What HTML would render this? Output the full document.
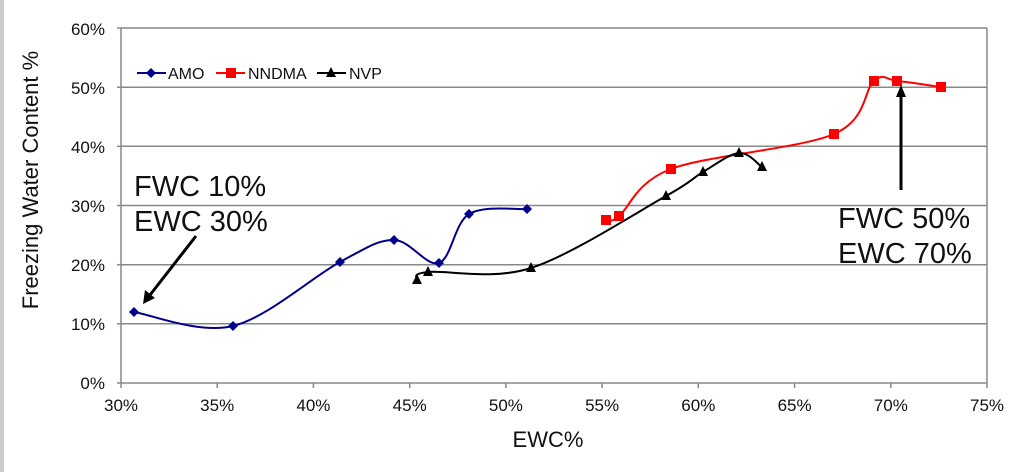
<!DOCTYPE html>
<html><head><meta charset="utf-8"><style>
html,body{margin:0;padding:0;background:#fff;}
svg{display:block;font-family:"Liberation Sans",Arial,sans-serif;}
</style></head><body>
<svg id="s" width="1032" height="472" viewBox="0 0 1032 472" xmlns="http://www.w3.org/2000/svg">
<rect x="0" y="0" width="4" height="472" fill="#ccc"/>
<g stroke="#888" stroke-width="1.5">
<line x1="121" y1="28" x2="987" y2="28"/>
<line x1="121" y1="87.2" x2="987" y2="87.2"/>
<line x1="121" y1="146.3" x2="987" y2="146.3"/>
<line x1="121" y1="205.5" x2="987" y2="205.5"/>
<line x1="121" y1="264.7" x2="987" y2="264.7"/>
<line x1="121" y1="323.8" x2="987" y2="323.8"/>
<line x1="121" y1="383" x2="987" y2="383"/>
<line x1="121" y1="28" x2="121" y2="383"/>
<line x1="987" y1="28" x2="987" y2="383"/>
<line x1="117" y1="28" x2="121" y2="28"/><line x1="117" y1="87.2" x2="121" y2="87.2"/><line x1="117" y1="146.3" x2="121" y2="146.3"/><line x1="117" y1="205.5" x2="121" y2="205.5"/><line x1="117" y1="264.7" x2="121" y2="264.7"/><line x1="117" y1="323.8" x2="121" y2="323.8"/><line x1="117" y1="383" x2="121" y2="383"/>
<line x1="121" y1="383" x2="121" y2="388"/><line x1="217.2" y1="383" x2="217.2" y2="388"/><line x1="313.4" y1="383" x2="313.4" y2="388"/><line x1="409.7" y1="383" x2="409.7" y2="388"/><line x1="505.9" y1="383" x2="505.9" y2="388"/><line x1="602.1" y1="383" x2="602.1" y2="388"/><line x1="698.3" y1="383" x2="698.3" y2="388"/><line x1="794.6" y1="383" x2="794.6" y2="388"/><line x1="890.8" y1="383" x2="890.8" y2="388"/><line x1="987" y1="383" x2="987" y2="388"/>
</g>
<g font-size="17" fill="#111" text-anchor="end">
<text x="105" y="35">60%</text><text x="105" y="94">50%</text><text x="105" y="153">40%</text><text x="105" y="212">30%</text><text x="105" y="271">20%</text><text x="105" y="330">10%</text><text x="105" y="389">0%</text>
</g>
<g font-size="17" fill="#111" text-anchor="middle">
<text x="121" y="411">30%</text><text x="217.2" y="411">35%</text><text x="313.4" y="411">40%</text><text x="409.7" y="411">45%</text><text x="505.9" y="411">50%</text><text x="602.1" y="411">55%</text><text x="698.3" y="411">60%</text><text x="794.6" y="411">65%</text><text x="890.8" y="411">70%</text><text x="987" y="411">75%</text>
</g>
<text x="548" y="447" font-size="22" fill="#111" text-anchor="middle">EWC%</text>
<text transform="translate(38,180) rotate(-90)" font-size="22" fill="#111" text-anchor="middle">Freezing Water Content %</text>
<line x1="137" y1="73" x2="166" y2="73" stroke="#00008b" stroke-width="2"/>
<path d="M151,68 L156,73 L151,78 L146,73Z" fill="#00008b"/>
<text x="168" y="79" font-size="16" fill="#111">AMO</text>
<line x1="216" y1="73" x2="245" y2="73" stroke="#f00" stroke-width="2"/>
<rect x="226" y="68" width="10" height="10" fill="#f00"/>
<text x="248" y="79" font-size="16" fill="#111">NNDMA</text>
<line x1="317" y1="73" x2="346" y2="73" stroke="#000" stroke-width="2"/>
<path d="M331,67 L336,77 L326,77Z" fill="#000"/>
<text x="349" y="79" font-size="16" fill="#111">NVP</text>
<g id="series"></g>
<text x="134" y="196" font-size="29" fill="#111">FWC 10%</text>
<text x="134" y="231" font-size="29" fill="#111">EWC 30%</text>
<line x1="196" y1="236" x2="150" y2="295" stroke="#000" stroke-width="3"/>
<path d="M143,304 L145,290 L155,298Z" fill="#000"/>
<text x="838" y="228" font-size="29" fill="#111">FWC 50%</text>
<text x="838" y="263" font-size="29" fill="#111">EWC 70%</text>
<line x1="901" y1="190" x2="901" y2="95" stroke="#000" stroke-width="3"/>
<path d="M901,85 L896,97 L906,97Z" fill="#000"/>
</svg>
<script>
function cr(p){var d="M"+p[0][0]+","+p[0][1];for(var i=0;i<p.length-1;i++){var a=p[i-1]||p[i],b=p[i],c=p[i+1],e=p[i+2]||c;var t=0.5/3;d+=" C"+(b[0]+(c[0]-a[0])*t)+","+(b[1]+(c[1]-a[1])*t)+" "+(c[0]-(e[0]-b[0])*t)+","+(c[1]-(e[1]-b[1])*t)+" "+c[0]+","+c[1];}return d;}
var g=document.getElementById("series"),h="";
var amo=[[134,312],[233,326],[340,262],[394,240],[439,263],[469,214],[527,209]];
var nn=[[606,220],[619,216],[671,169],[834,134],[874,81],[897,81],[941,87]];
var nv=[[417,280],[428,272],[531,268],[666,196],[703,172],[739,153],[762,167]];
h+='<path d="'+cr(amo)+'" fill="none" stroke="#00008b" stroke-width="2"/>';
h+='<path d="'+cr(nn)+'" fill="none" stroke="#f00" stroke-width="2"/>';
h+='<path d="'+cr(nv)+'" fill="none" stroke="#000" stroke-width="2"/>';
amo.forEach(function(p){h+='<path d="M'+p[0]+','+(p[1]-5)+' L'+(p[0]+5)+','+p[1]+' L'+p[0]+','+(p[1]+5)+' L'+(p[0]-5)+','+p[1]+'Z" fill="#00008b"/>';});
nn.forEach(function(p){h+='<rect x="'+(p[0]-5)+'" y="'+(p[1]-5)+'" width="10" height="10" fill="#f00"/>';});
nv.forEach(function(p){h+='<path d="M'+p[0]+','+(p[1]-6)+' L'+(p[0]+5)+','+(p[1]+4)+' L'+(p[0]-5)+','+(p[1]+4)+'Z" fill="#000"/>';});
g.innerHTML=h;
</script>
</body></html>
